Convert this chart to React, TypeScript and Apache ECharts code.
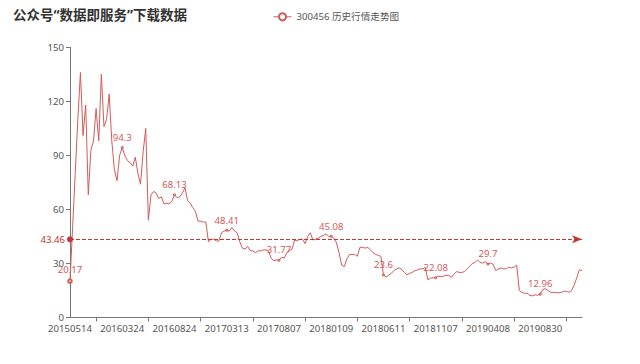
import React, { useEffect, useRef } from "react";
import * as echarts from "echarts";

const titleText = "公众号“数据即服务”下载数据";
const seriesName = "300456 历史行情走势图";
const tickLabels = ["20150514", "20160324", "20160824", "20170313", "20170807", "20180109", "20180611", "20181107", "20190408", "20190830"];
const avgValue = 43.46;
const yTicks = [0, 30, 60, 90, 120, 150];

const prices = [
  20.17, 50, 80, 110, 136, 101, 118, 68, 93, 98, 116, 98, 135, 106, 110, 124, 98, 82, 76, 90,
  94.3, 90, 87, 86, 84, 89, 80, 74, 92, 105, 54, 68, 70, 69, 66, 67, 63, 63.5, 63, 64.5,
  68.13, 66.5, 67, 69, 72, 65, 63.5, 61, 59, 53.5, 53.5, 53, 53, 42, 43.5, 43.5, 42.5, 42.5, 47, 48,
  48.41, 48, 50, 48, 47, 42, 38.5, 38, 39.5, 37, 37, 36, 37, 37, 37.5, 37.5, 37, 33, 31.5, 32,
  31.77, 33.5, 33, 36, 37, 38, 43, 42.5, 43.5, 43.5, 41, 45, 47, 43, 43.5, 44, 45, 45.5, 46.5, 45,
  45.08, 44, 41.5, 36, 29, 28.2, 32.5, 35, 35, 35, 34, 39, 39, 38.5, 39, 37.5, 36, 35, 34.5, 34,
  23.6, 22.5, 23.5, 24.5, 26, 27, 27.5, 26.8, 25, 23.6, 24.5, 25, 26, 26.4, 27, 27, 27.8, 21, 21.8, 22,
  22.08, 23, 22.6, 23, 23.4, 23.4, 22.3, 24, 25.5, 25, 25, 25.5, 27, 28.5, 30, 30.5, 32, 30.5, 30.2, 31,
  29.7, 30.2, 29.5, 26, 27, 27.5, 27, 27, 28, 27.5, 28, 29, 15, 13.9, 13.4, 13.5, 12.3, 12, 12.6, 12.3,
  12.96, 15.5, 16, 15, 14, 13.9, 13.8, 13.7, 13.9, 14.6, 14.5, 14, 15, 18, 22, 26.5, 26,
];

const LABEL_STEP = 20;

export default function App() {
  const ref = useRef<HTMLDivElement>(null);
  useEffect(() => {
    if (!ref.current) return;
    const chart = echarts.init(ref.current, null, { renderer: "svg" });
    const categories = prices.map((_, i) => String(i));
    const font = "'Noto Sans', 'Noto Sans CJK SC', sans-serif";
    const red = "#c23531";
    const lineRed = "#d05c59";
    const axisColor = "#777";
    const textColor = "#555";
    chart.setOption({
      animation: false,
      color: [red],
      textStyle: { fontFamily: font },
      title: {
        text: titleText,
        left: 8,
        top: 3,
        textStyle: { fontSize: 13.5, fontWeight: "bold", color: "#333", fontFamily: font },
      },
      legend: {
        data: [seriesName],
        left: 268,
        top: 7,
        itemWidth: 18,
        itemHeight: 9,
        itemStyle: { borderWidth: 1 },
        lineStyle: { width: 1 },
        textStyle: { fontSize: 9.6, color: textColor, fontFamily: font },
      },
      grid: { left: 70, right: 58, top: 47.3, bottom: 46.5, containLabel: false },
      xAxis: {
        type: "category",
        data: categories,
        boundaryGap: false,
        axisLine: { show: true, lineStyle: { color: axisColor, width: 1 } },
        axisTick: {
          show: true,
          length: 4,
          interval: (index: number) => index % LABEL_STEP === LABEL_STEP / 2,
          lineStyle: { color: axisColor },
        },
        axisLabel: {
          interval: LABEL_STEP - 1,
          margin: 6,
          fontSize: 9.6,
          color: textColor,
          fontFamily: font,
          formatter: (_v: string, idx: number) => tickLabels[idx / LABEL_STEP] ?? "",
        },
        splitLine: { show: false },
      },
      yAxis: {
        type: "value",
        min: yTicks[0],
        max: yTicks[yTicks.length - 1],
        interval: yTicks[1] - yTicks[0],
        axisLine: { show: true, lineStyle: { color: axisColor, width: 1 } },
        axisTick: { show: true, length: 4, lineStyle: { color: axisColor } },
        axisLabel: { margin: 6, fontSize: 9.6, color: textColor, fontFamily: font },
        splitLine: { show: false },
      },
      series: [
        {
          name: seriesName,
          type: "line",
          data: prices,
          symbol: "emptyCircle",
          symbolSize: (_v: number, p: any) => (p.dataIndex === 0 ? 3.5 : 1),
          showAllSymbol: "auto",
          lineStyle: { width: 1, color: lineRed },
          itemStyle: { color: lineRed, borderWidth: 0.8 },
          label: { show: true, position: "top", fontSize: 9.6, color: lineRed, distance: 4, fontFamily: font },
          markLine: {
            symbol: ["circle", "arrow"],
            symbolSize: [6, 10],
            lineStyle: { color: red, type: "dashed", width: 1 },
            label: { position: "start", color: red, fontSize: 9.6, fontFamily: font },
            data: [{ yAxis: avgValue }],
          },
        },
      ],
    });
    return () => chart.dispose();
  }, []);
  return <div ref={ref} style={{ position: "absolute", left: 0, top: 0, width: 640, height: 364 }} />;
}
